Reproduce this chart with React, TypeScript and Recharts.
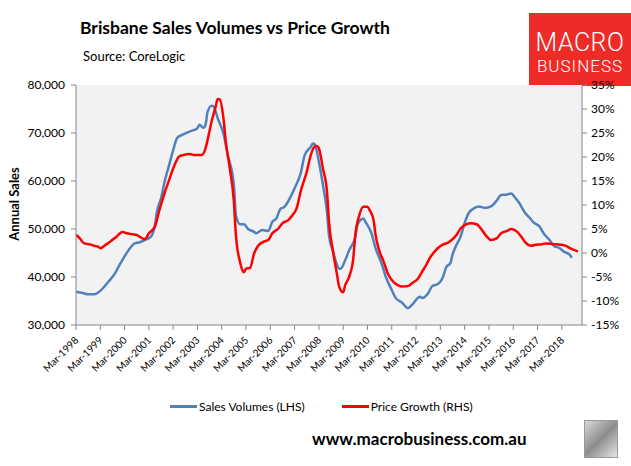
import { CartesianGrid, Line, LineChart, XAxis, YAxis } from 'recharts'

// month index 0 = Mar-1998
const salesMonths = [
  0, 3, 6, 9, 12, 14, 16, 19, 21, 24, 26, 29, 31, 34, 37, 39, 40, 42, 44, 46, 48, 50, 53, 56, 60, 61, 63, 64,
  65, 67, 68, 70, 73, 75, 78, 79, 81, 83, 85, 88, 89, 92, 95, 97, 99, 101, 103, 106, 108, 111, 113, 116, 117,
  118, 120, 122, 124, 125, 127, 129, 130, 131, 133, 135, 138, 139, 142, 143, 146, 148, 151, 153, 156, 158, 161,
  164, 166, 170, 171, 174, 176, 179, 181, 183, 185, 186, 188, 190, 192, 194, 197, 199, 202, 205, 208, 210, 213,
  215, 217, 219, 222, 224, 226, 229, 231, 234, 236, 239, 241, 244, 245,
]
const salesValues = [
  36950, 36700, 36400, 36400, 37100, 38000, 39000, 40600, 42100, 44300, 45600, 47000, 47200, 47700, 48400, 50800,
  53600, 56400, 60200, 63300, 66400, 69000, 69700, 70300, 71000, 71700, 71100, 71700, 74400, 75700, 75500, 73100,
  69600, 65400, 59200, 52900, 51000, 51000, 50000, 49400, 49100, 49800, 49600, 51500, 52200, 54200, 54600, 56700,
  58500, 61600, 65400, 67100, 67800, 67600, 64000, 59200, 53600, 48700, 45300, 42500, 41700, 41800, 43500, 45600,
  48400, 50800, 52200, 51500, 49100, 46000, 42800, 40100, 37300, 35600, 34700, 33500, 34200, 35900, 35600, 36600,
  38100, 38600, 39700, 42100, 42900, 44600, 46700, 48400, 51200, 53300, 54400, 54700, 54400, 54700, 56000, 57100,
  57200, 57400, 56500, 55400, 53300, 52400, 51400, 50500, 49100, 47700, 46500, 46000, 45300, 44600, 44000,
]

const priceMonths = [
  0, 2, 4, 7, 9, 11, 12, 15, 17, 20, 23, 25, 28, 30, 33, 34, 36, 39, 41, 44, 46, 48, 51, 53, 56, 59, 62, 64, 65,
  67, 69, 70, 71, 73, 74, 76, 78, 79, 81, 83, 84, 86, 88, 90, 93, 95, 97, 100, 102, 105, 107, 109, 111, 114, 116,
  118, 119, 120, 122, 124, 125, 127, 129, 130, 132, 133, 135, 137, 138, 140, 142, 144, 145, 147, 148, 150, 152,
  154, 156, 159, 161, 164, 166, 169, 171, 173, 175, 177, 179, 181, 184, 185, 188, 190, 193, 195, 198, 200, 203,
  205, 208, 210, 213, 215, 218, 220, 222, 225, 227, 230, 232, 235, 237, 240, 242, 245, 247, 248,
]
const priceValues = [
  3.8, 3.0, 2.0, 1.8, 1.5, 1.3, 1.0, 1.8, 2.4, 3.4, 4.4, 4.1, 3.9, 3.75, 3.0, 2.9, 4.1, 5.5, 8.6, 12.8, 15.2, 17.6,
  20.1, 20.4, 20.6, 20.4, 20.4, 21.8, 23.5, 27.4, 30.5, 32.1, 32.0, 27.5, 23.2, 17.6, 10.7, 3.75, -1.8, -4.0, -3.3,
  -3.1, -0.1, 1.5, 2.4, 2.7, 4.1, 5.1, 6.2, 6.9, 7.9, 9.3, 12.8, 16.9, 20.4, 22.2, 22.3, 21.8, 17.6, 12.8, 6.5, 0.3,
  -4.6, -7.0, -8.2, -6.7, -4.9, -1.1, 3.75, 7.9, 9.65, 9.65, 9.0, 6.9, 3.75, 0.3, -1.8, -4.2, -5.6, -6.7, -7.0, -6.9,
  -6.3, -5.3, -3.9, -2.5, -0.9, 0.2, 1.1, 1.7, 2.2, 2.5, 3.75, 5.1, 6.0, 6.2, 6.0, 5.1, 3.4, 2.7, 3.1, 4.1, 4.6, 5.0,
  4.4, 3.4, 2.2, 1.5, 1.7, 1.8, 2.0, 1.9, 1.8, 1.7, 1.5, 0.8, 0.5, 0.3,
]

const tickMonths = [0, 12, 24, 36, 48, 60, 72, 84, 96, 108, 120, 132, 144, 156, 168, 180, 192, 204, 216, 228, 240]
const tickLabels = [
  'Mar-1998', 'Mar-1999', 'Mar-2000', 'Mar-2001', 'Mar-2002', 'Mar-2003', 'Mar-2004', 'Mar-2005', 'Mar-2006',
  'Mar-2007', 'Mar-2008', 'Mar-2009', 'Mar-2010', 'Mar-2011', 'Mar-2012', 'Mar-2013', 'Mar-2014', 'Mar-2015',
  'Mar-2016', 'Mar-2017', 'Mar-2018',
]
const salesTicks = [30000, 40000, 50000, 60000, 70000, 80000]
const priceTicks = [-15, -10, -5, 0, 5, 10, 15, 20, 25, 30, 35]

const salesData = salesMonths.map((m, i) => ({ m, sales: salesValues[i] }))
const priceData = priceMonths.map((m, i) => ({ m, price: priceValues[i] }))

const FONT = 'Lato, "Open Sans", sans-serif'
const AXIS = '#868686'

function MonthTick({ x, y, payload }: any) {
  const i = tickMonths.indexOf(payload.value)
  const tx = x + 3
  const ty = y + 9
  return (
    <text x={tx} y={ty} transform={`rotate(-45 ${tx} ${ty})`} textAnchor="end" fontSize={10} fill="#000" fontFamily={FONT}>
      {tickLabels[i]}
    </text>
  )
}

function App() {
  return (
    <div style={{ position: 'absolute', left: 0, top: 0, width: 631, height: 466, fontFamily: FONT, background: '#fff' }}>
      <div style={{ position: 'absolute', left: 80, top: 17, fontSize: 17.5, fontWeight: 700, color: '#000', whiteSpace: 'nowrap' }}>
        Brisbane Sales Volumes vs Price Growth
      </div>
      <div style={{ position: 'absolute', left: 83, top: 48, fontSize: 13, color: '#000', whiteSpace: 'nowrap' }}>
        Source: CoreLogic
      </div>
      <div
        style={{
          position: 'absolute', left: 529, top: 13, width: 102, height: 73, background: '#ee2b27', color: '#fff',
          textAlign: 'center', fontFamily: 'Roboto, sans-serif', overflow: 'hidden',
        }}
      >
        <div style={{ fontSize: 25, fontWeight: 300, lineHeight: '22px', marginTop: 19, letterSpacing: 0.5 }}>MACRO</div>
        <div style={{ fontSize: 17, fontWeight: 300, lineHeight: '15px', marginTop: 5, letterSpacing: 1 }}>BUSINESS</div>
      </div>
      <div
        style={{
          position: 'absolute', left: 14 - 50, top: 205 - 9, width: 100, textAlign: 'center', fontSize: 13,
          fontWeight: 700, transform: 'rotate(-90deg)', whiteSpace: 'nowrap',
        }}
      >
        Annual Sales
      </div>

      <div style={{ position: 'absolute', left: 0, top: 0 }}>
        <LineChart width={631} height={466} margin={{ top: 85, right: 0, bottom: 0, left: 0 }}>
          <CartesianGrid fill="#f2f2f2" horizontal={false} vertical={false} xAxisId="x" yAxisId="left" />
          <XAxis
            xAxisId="x"
            dataKey="m"
            type="number"
            domain={[0, 250]}
            ticks={tickMonths}
            allowDataOverflow
            height={141}
            stroke={AXIS}
            tickSize={5}
            tick={<MonthTick />}
            interval={0}
          />
          <YAxis
            yAxisId="left"
            orientation="left"
            width={76}
            domain={[30000, 80000]}
            ticks={salesTicks}
            allowDataOverflow
            stroke={AXIS}
            tickSize={5}
            tickMargin={6}
            tick={{ fontSize: 12, fill: '#000', fontFamily: FONT }}
            tickFormatter={(v: number) => v.toLocaleString('en-US')}
          />
          <YAxis
            yAxisId="right"
            orientation="right"
            width={49}
            domain={[-15, 35]}
            ticks={priceTicks}
            allowDataOverflow
            stroke={AXIS}
            tickSize={5}
            tickMargin={4}
            tick={{ fontSize: 12, fill: '#000', fontFamily: FONT }}
            tickFormatter={(v: number) => `${v}%`}
          />
          <Line
            xAxisId="x"
            yAxisId="left"
            data={salesData}
            dataKey="sales"
            type="monotone"
            stroke="#4f81bd"
            strokeWidth={2.5}
            dot={false}
            isAnimationActive={false}
          />
          <Line
            xAxisId="x"
            yAxisId="right"
            data={priceData}
            dataKey="price"
            type="monotone"
            stroke="#ff0000"
            strokeWidth={2.5}
            dot={false}
            isAnimationActive={false}
          />
        </LineChart>
      </div>

      <div style={{ position: 'absolute', left: 170, top: 399, fontSize: 12, color: '#000', display: 'flex', alignItems: 'center', whiteSpace: 'nowrap' }}>
        <span style={{ display: 'inline-block', width: 27, height: 3, background: '#4f81bd', marginRight: 2 }} />
        <span>Sales Volumes (LHS)</span>
        <span style={{ display: 'inline-block', width: 27, height: 3, background: '#ff0000', marginLeft: 37, marginRight: 2 }} />
        <span>Price Growth (RHS)</span>
      </div>

      <div style={{ position: 'absolute', left: 312, top: 428, fontSize: 17, fontWeight: 700, color: '#000', whiteSpace: 'nowrap' }}>
        www.macrobusiness.com.au
      </div>
      <div
        style={{
          position: 'absolute', left: 584, top: 420, width: 32, height: 36, border: '1px solid #999',
          background: 'linear-gradient(135deg, #d9d9d9, #8c8c8c 50%, #e6e6e6)',
        }}
      />
    </div>
  )
}

export default App
